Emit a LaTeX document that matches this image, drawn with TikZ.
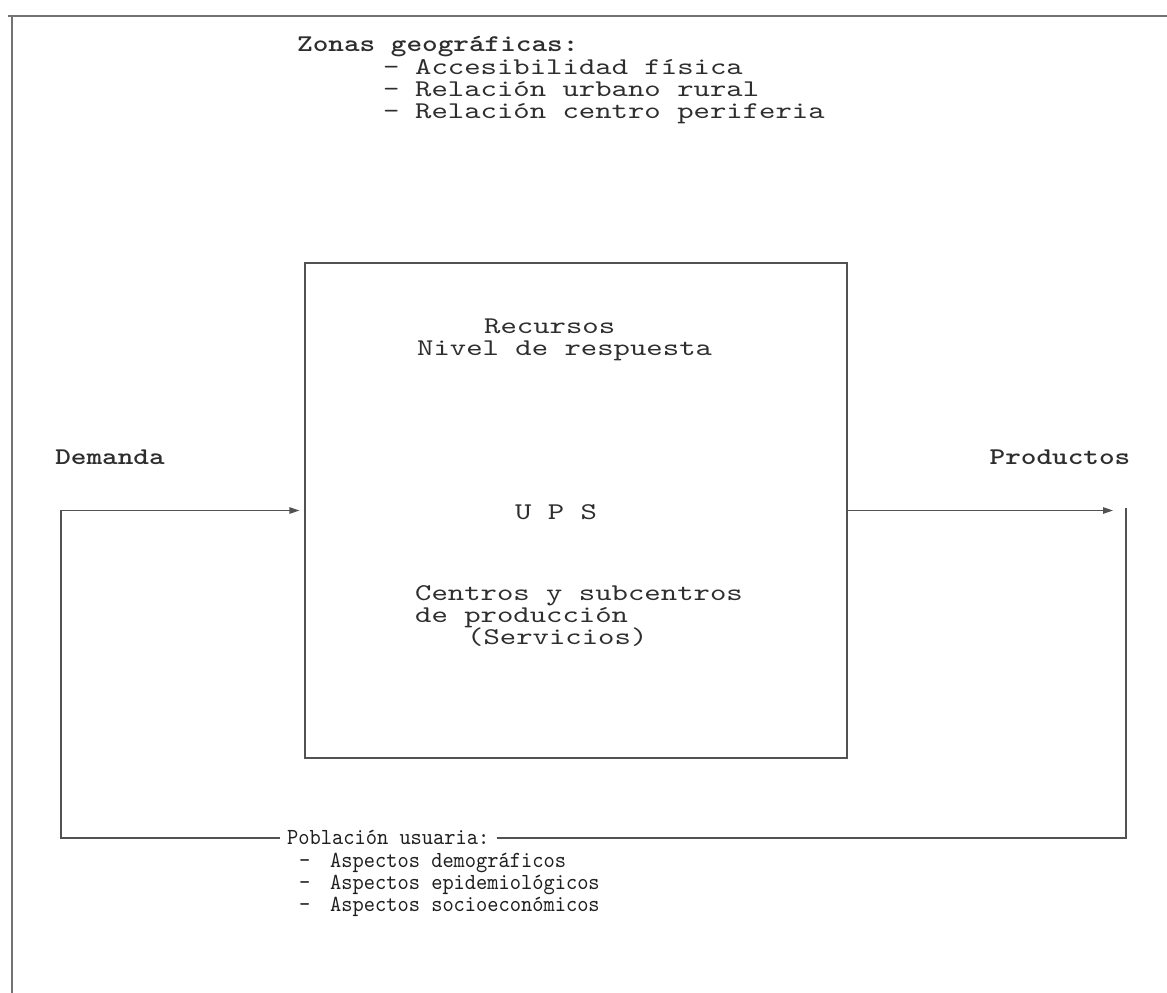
\documentclass[tikz,border=0pt]{standalone}
\usepackage{fontspec}
\newfontfamily\cour{lmmono10-regular.otf}[FakeStretch=1.3]
\newfontfamily\courbold{lmmonolt10-bold.otf}[FakeStretch=1.24]
\newfontfamily\courna{lmmono10-regular.otf}[FakeStretch=0.93]
\usetikzlibrary{arrows.meta}
\begin{document}
\begin{tikzpicture}[x=1pt,y=-1pt,
  ink/.style={draw=black!68,line width=1.2pt},
  frame/.style={draw=black!55,line width=1.4pt},
  tip/.style={-{Triangle[length=10pt,width=6.5pt]}},
  txt/.style={text=black!82,inner sep=0pt,anchor=base west,
    font=\cour\fontsize{24}{24}\selectfont},
  btxt/.style={txt,font=\courbold\fontsize{24}{24}\selectfont},
  ntxt/.style={txt,text=black!88,font=\courna\fontsize{23}{23}\selectfont}]
\useasboundingbox (0,0) rectangle (1167,993);
\fill[white] (0,0) rectangle (1167,993);

% page frame remnants
\draw[frame] (8,16) -- (1167,16);
\draw[frame] (12,15) -- (12,993);

% geographic zones
\node[btxt] (zonas) at (297,51) {Zonas geográficas:};
\node[txt] (zd1) at (383,74) {-};
\node[txt] (z1) at (415,74) {Accesibilidad física};
\node[txt] (zd2) at (383,96) {-};
\node[txt] (z2) at (415,96) {Relación urbano rural};
\node[txt] (zd3) at (383,118) {-};
\node[txt] (z3) at (415,118) {Relación centro periferia};

% production unit
\node[ink,rectangle,minimum width=542pt,minimum height=495pt,inner sep=0pt]
  (ups) at (576,510.5) {};
\node[txt] (rec) at (484,333) {Recursos};
\node[txt] (niv) at (417,355) {Nivel de respuesta};
\node[txt] (upsl) at (515,519) {U P S};
\node[txt] (c1) at (415,600) {Centros y subcentros};
\node[txt] (c2) at (415,622) {de producción};
\node[txt] (c3) at (467,644) {(Servicios)};

% side labels
\node[btxt,anchor=base] (dem) at (110,464) {Demanda};
\node[btxt,anchor=base] (prod) at (1060,464) {Productos};

% user population
\node[ntxt,inner xsep=7pt] (pob) at (280,844) {Población usuaria:};
\node[ntxt] (pd1) at (299,867) {-};
\node[ntxt] (p1) at (330,867) {Aspectos demográficos};
\node[ntxt] (pd2) at (299,889) {-};
\node[ntxt] (p2) at (330,889) {Aspectos epidemiológicos};
\node[ntxt] (pd3) at (299,911) {-};
\node[ntxt] (p3) at (330,911) {Aspectos socioeconómicos};

% feedback loop
\coordinate (lx) at (61,0);
\coordinate (tipx) at (1113,0);
\coordinate (rtop) at (1126,508);
\coordinate (bl) at (61,838);
\coordinate (br) at (1126,838);
\draw[ink,tip,shorten >=5pt] (pob.west |- bl) -- (bl) -- (ups.west -| lx) -- (ups.west);
\draw[ink,tip] (ups.east) -- (ups.east -| tipx);
\draw[ink] (pob.east |- br) -- (br) -- (rtop);
\end{tikzpicture}
\end{document}
